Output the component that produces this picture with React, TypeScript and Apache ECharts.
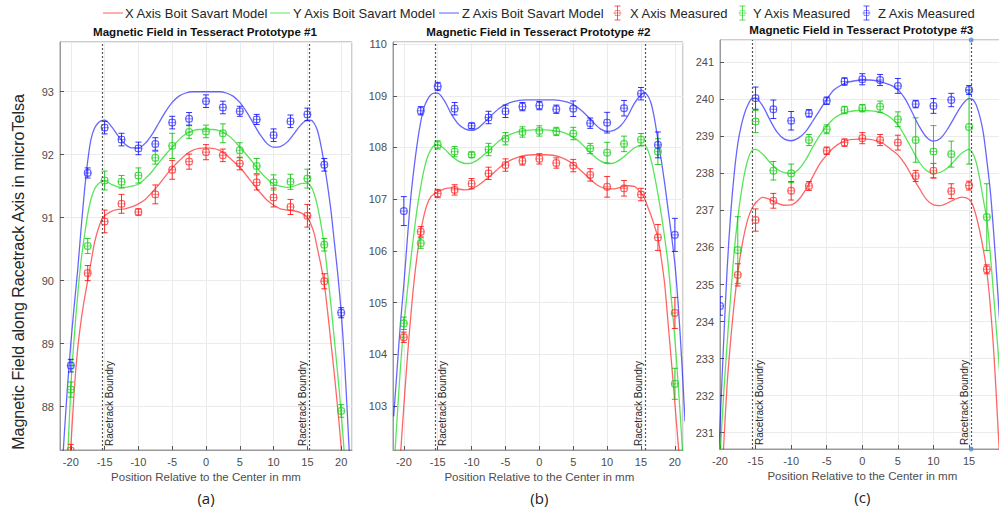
import React, { useEffect, useRef } from "react";
import * as echarts from "echarts";

// ---------- data ----------
const measX = [-20, -17.5, -15, -12.5, -10, -7.5, -5, -2.5, 0, 2.5, 5, 7.5, 10, 12.5, 15, 17.5, 20];
const modelX = [-21.5, -21, -20.5, -20, -19.5, -19, -18.5, -18, -17.5, -17, -16.5, -16, -15.5, -15, -14, -13, -12, -11, -10, -9, -8, -7, -6, -5, -4, -3, -2, -1, 0, 1, 2, 3, 4, 5, 6, 7, 8, 9, 10, 11, 12, 13, 14, 15, 15.5, 16, 16.5, 17, 17.5, 18, 18.5, 19, 19.5, 20, 20.5, 21, 21.5];

// Prototype #1
const p1ModelX = [84.5, 85.6, 86.6, 87.35, 88.25, 88.9, 89.35, 89.7, 90.0, 90.3, 90.6, 90.8, 90.95, 91.03, 91.1, 91.13, 91.14, 91.17, 91.22, 91.29, 91.4, 91.52, 91.66, 91.79, 91.9, 92.0, 92.07, 92.1, 92.11, 92.1, 92.07, 92.0, 91.9, 91.8, 91.67, 91.53, 91.4, 91.28, 91.2, 91.14, 91.12, 91.11, 91.08, 91.0, 90.9, 90.75, 90.5, 90.25, 89.95, 89.5, 89.0, 88.5, 87.95, 87.35, 86.6, 85.7, 84.7];
const p1ModelY = [84.7, 85.9, 87.1, 88.3, 89.1, 89.75, 90.3, 90.7, 91.05, 91.3, 91.45, 91.53, 91.57, 91.58, 91.53, 91.49, 91.48, 91.5, 91.53, 91.62, 91.73, 91.87, 92.0, 92.12, 92.24, 92.33, 92.38, 92.4, 92.4, 92.4, 92.38, 92.33, 92.24, 92.12, 92.0, 91.87, 91.73, 91.62, 91.53, 91.5, 91.48, 91.5, 91.54, 91.55, 91.5, 91.38, 91.18, 90.9, 90.55, 90.1, 89.6, 89.05, 88.5, 87.9, 87.2, 86.4, 85.5];
const p1ModelZ = [86.6, 87.5, 88.3, 89.0, 89.6, 90.15, 90.8, 91.4, 91.9, 92.25, 92.42, 92.5, 92.54, 92.55, 92.45, 92.3, 92.17, 92.11, 92.11, 92.18, 92.32, 92.5, 92.68, 92.83, 92.93, 92.98, 93.0, 93.0, 93.0, 93.0, 93.0, 92.98, 92.93, 92.83, 92.68, 92.5, 92.32, 92.18, 92.12, 92.13, 92.2, 92.33, 92.47, 92.55, 92.55, 92.5, 92.38, 92.15, 91.85, 91.5, 91.1, 90.6, 90.1, 89.5, 88.7, 87.7, 86.6];
const p1MeasX = [87.3, 90.12, 90.94, 91.22, 91.09, 91.37, 91.76, 91.89, 92.04, 91.99, 91.86, 91.56, 91.32, 91.17, 91.03, 89.99, null];
const p1MeasY = [88.27, 90.55, 91.59, 91.57, 91.67, 91.95, 92.14, 92.36, 92.37, 92.34, 92.07, 91.82, 91.56, 91.57, 91.62, 90.57, 87.93];
const p1MeasZ = [88.65, 91.71, 92.43, 92.24, 92.1, 92.17, 92.51, 92.57, 92.85, 92.75, 92.69, 92.56, 92.31, 92.53, 92.64, 91.84, 89.49];
const p1ErrX = [0.1, 0.12, 0.18, 0.15, 0.05, 0.15, 0.15, 0.12, 0.12, 0.1, 0.1, 0.12, 0.15, 0.12, 0.18, 0.12, null];
const p1ErrY = [0.12, 0.12, 0.15, 0.1, 0.12, 0.1, 0.2, 0.1, 0.1, 0.15, 0.12, 0.12, 0.12, 0.12, 0.15, 0.1, 0.1];
const p1ErrZ = [0.1, 0.08, 0.1, 0.1, 0.1, 0.1, 0.1, 0.1, 0.1, 0.1, 0.08, 0.08, 0.1, 0.1, 0.1, 0.1, 0.08];

// Prototype #2
const p2ModelX = [100.2, 101.1, 102.05, 103.0, 103.9, 104.7, 105.4, 105.95, 106.38, 106.7, 106.92, 107.05, 107.1, 107.14, 107.2, 107.22, 107.2, 107.18, 107.2, 107.27, 107.37, 107.48, 107.6, 107.7, 107.77, 107.82, 107.85, 107.86, 107.86, 107.86, 107.85, 107.82, 107.76, 107.68, 107.57, 107.45, 107.33, 107.24, 107.2, 107.2, 107.23, 107.26, 107.25, 107.12, 107.02, 106.85, 106.68, 106.48, 106.25, 105.85, 105.35, 104.6, 103.85, 103.05, 102.25, 101.4, 100.5];
const p2ModelY = [101.7, 102.75, 103.75, 104.55, 105.2, 105.8, 106.35, 106.85, 107.25, 107.58, 107.82, 107.96, 108.04, 108.05, 107.97, 107.84, 107.74, 107.69, 107.7, 107.77, 107.88, 108.0, 108.12, 108.21, 108.27, 108.31, 108.33, 108.34, 108.34, 108.34, 108.33, 108.31, 108.27, 108.2, 108.1, 107.97, 107.84, 107.74, 107.69, 107.7, 107.77, 107.88, 107.99, 108.04, 108.04, 107.95, 107.75, 107.45, 107.1, 106.7, 106.25, 105.75, 105.05, 104.3, 103.4, 102.4, 101.3];
const p2ModelZ = [102.8, 103.7, 104.6, 105.35, 106.2, 107.0, 107.6, 108.1, 108.5, 108.78, 108.93, 109.02, 109.05, 109.05, 108.9, 108.65, 108.46, 108.36, 108.33, 108.38, 108.5, 108.63, 108.75, 108.83, 108.88, 108.91, 108.92, 108.92, 108.92, 108.92, 108.92, 108.91, 108.88, 108.83, 108.74, 108.62, 108.48, 108.36, 108.31, 108.33, 108.42, 108.6, 108.85, 109.02, 109.06, 109.0, 108.85, 108.55, 108.15, 107.75, 107.3, 106.8, 106.3, 105.75, 104.95, 103.9, 102.7];
const p2MeasX = [104.33, 106.37, 107.11, 107.18, 107.3, 107.5, 107.66, 107.74, 107.78, 107.7, 107.65, 107.47, 107.24, 107.21, 107.09, 106.26, 104.8];
const p2MeasY = [104.6, 106.15, 108.05, 107.92, 107.86, 107.96, 108.17, 108.3, 108.32, 108.31, 108.27, 107.98, 107.9, 108.07, 108.15, 107.92, 103.43];
const p2MeasZ = [106.77, 108.71, 109.18, 108.75, 108.42, 108.58, 108.7, 108.79, 108.81, 108.74, 108.75, 108.47, 108.48, 108.76, 109.04, 108.05, 106.31];
const p2ErrX = [0.1, 0.1, 0.08, 0.1, 0.1, 0.12, 0.12, 0.08, 0.1, 0.1, 0.12, 0.12, 0.2, 0.15, 0.12, 0.25, 0.3];
const p2ErrY = [0.12, 0.1, 0.08, 0.1, 0.05, 0.12, 0.12, 0.1, 0.1, 0.08, 0.12, 0.1, 0.2, 0.15, 0.12, 0.25, 0.3];
const p2ErrZ = [0.28, 0.08, 0.08, 0.12, 0.05, 0.12, 0.12, 0.08, 0.08, 0.08, 0.15, 0.1, 0.2, 0.15, 0.12, 0.25, 0.32];

// Prototype #3
const p3ModelX = [222.0, 224.6, 226.9, 228.9, 230.6, 232.3, 233.5, 234.5, 235.3, 235.95, 236.45, 236.82, 237.05, 237.2, 237.35, 237.3, 237.2, 237.14, 237.15, 237.28, 237.55, 237.9, 238.25, 238.5, 238.7, 238.83, 238.9, 238.92, 238.93, 238.92, 238.88, 238.8, 238.65, 238.5, 238.25, 237.92, 237.6, 237.3, 237.15, 237.13, 237.2, 237.3, 237.36, 237.3, 237.15, 236.85, 236.45, 235.95, 235.35, 234.4, 233.1, 231.4, 229.6, 227.8, 226.0, 224.2, 222.4];
const p3ModelY = [223.0, 225.5, 228.0, 230.3, 232.0, 233.4, 234.7, 235.9, 236.8, 237.5, 238.05, 238.42, 238.62, 238.65, 238.52, 238.3, 238.12, 238.02, 238.0, 238.1, 238.35, 238.7, 239.02, 239.28, 239.48, 239.6, 239.66, 239.69, 239.7, 239.69, 239.67, 239.62, 239.5, 239.3, 239.0, 238.65, 238.3, 238.08, 238.0, 238.03, 238.15, 238.35, 238.55, 238.65, 238.55, 238.3, 237.85, 237.3, 236.75, 235.8, 234.6, 233.4, 232.1, 230.8, 229.4, 228.0, 226.5];
const p3ModelZ = [224.0, 226.5, 229.0, 231.2, 233.4, 235.4, 236.9, 238.0, 238.8, 239.3, 239.65, 239.88, 240.02, 240.03, 239.82, 239.45, 239.12, 238.93, 238.88, 238.95, 239.12, 239.4, 239.7, 240.0, 240.25, 240.38, 240.46, 240.5, 240.52, 240.52, 240.5, 240.45, 240.38, 240.26, 240.02, 239.65, 239.27, 238.98, 238.87, 238.95, 239.2, 239.53, 239.84, 240.02, 240.0, 239.85, 239.55, 239.1, 238.35, 237.5, 236.3, 234.9, 233.4, 231.8, 230.2, 228.6, 227.0];
const p3MeasX = [null, 235.26, 236.74, 237.26, 237.53, 237.66, 238.61, 238.83, 238.95, 238.9, 238.83, 237.93, 238.07, 237.52, 237.67, 235.41, null];
const p3MeasY = [null, 235.93, 239.4, 238.07, 238.0, 238.9, 239.19, 239.71, 239.76, 239.8, 239.46, 238.9, 238.59, 238.52, 239.25, 236.82, null];
const p3MeasZ = [234.42, null, 240.03, 239.73, 239.42, 239.62, 239.96, 240.48, 240.54, 240.52, 240.36, 239.87, 239.82, 239.98, 240.25, null, null];
const p3ErrX = [null, 0.3, 0.3, 0.2, 0.25, 0.12, 0.1, 0.1, 0.15, 0.15, 0.2, 0.15, 0.2, 0.2, 0.12, 0.12, null];
const p3ErrY = [null, 0.9, 0.3, 0.25, 0.25, 0.15, 0.12, 0.1, 0.1, 0.15, 0.2, 0.6, 0.7, 0.35, 1.0, 0.9, null];
const p3ErrZ = [0.25, null, 0.3, 0.25, 0.25, 0.1, 0.1, 0.1, 0.15, 0.15, 0.2, 0.1, 0.2, 0.18, 0.12, null, null];
const p3MarkerX = [15.3, 15.3];
const p3MarkerY = [241.6, 230.56];

const titles = ["Magnetic Field in Tesseract Prototype #1", "Magnetic Field in Tesseract Prototype #2", "Magnetic Field in Tesseract Prototype #3"];
const captions = ["(a)", "(b)", "(c)"];
const boundaries = [[-15.3, 15.3], [-15.4, 15.7], [-15.5, 15.3]];
const legendNames = ["X Axis Boit Savart Model", "Y Axis Boit Savart Model", "Z Axis Boit Savart Model", "X Axis Measured", "Y Axis Measured", "Z Axis Measured"];

// ---------- styling ----------
const FONT = "'Liberation Sans', Arial, Helvetica, sans-serif";
const lineCol = ["rgba(255,0,0,0.6)", "rgba(0,215,0,0.65)", "rgba(0,0,255,0.6)"];
const legendLineCol = ["rgba(255,0,0,0.4)", "rgba(0,215,0,0.4)", "rgba(0,0,255,0.4)"];
const legendMarkCol = ["rgba(255,0,0,0.65)", "rgba(0,200,0,0.65)", "rgba(0,0,255,0.65)"];
const barCol = ["rgba(255,0,0,0.8)", "rgba(0,190,0,0.8)", "rgba(0,0,255,0.8)"];
const markCol = ["rgba(255,40,40,0.55)", "rgba(30,210,30,0.6)", "rgba(40,40,255,0.55)"];

const panels = [
  { grid: { left: 60, top: 42, width: 292, height: 408 }, xMin: -21.6, xMax: 21.6, yMin: 87.31, yMax: 93.79, showMinX: false, labelMaxX: 21,
    model: [p1ModelX, p1ModelY, p1ModelZ], meas: [p1MeasX, p1MeasY, p1MeasZ], err: [p1ErrX, p1ErrY, p1ErrZ] },
  { grid: { left: 393, top: 42, width: 290, height: 408 }, xMin: -21.6, xMax: 21.2, yMin: 102.15, yMax: 110.04, showMinX: false, labelMaxX: 21,
    model: [p2ModelX, p2ModelY, p2ModelZ], meas: [p2MeasX, p2MeasY, p2MeasZ], err: [p2ErrX, p2ErrY, p2ErrZ] },
  { grid: { left: 720, top: 40, width: 296, height: 409 }, xMin: -20, xMax: 21.6, yMin: 230.56, yMax: 241.6, showMinX: true, labelMaxX: 16,
    model: [p3ModelX, p3ModelY, p3ModelZ], meas: [p3MeasX, p3MeasY, p3MeasZ], err: [p3ErrX, p3ErrY, p3ErrZ] },
];

function makeRender(bar: string, mark: string) {
  return (params: any, api: any) => {
    const x = api.value(0), y = api.value(1), e = api.value(2);
    const c = api.coord([x, y]);
    const t = api.coord([x, y + e]);
    const b = api.coord([x, y - e]);
    const cap = 3;
    const s = { stroke: bar, lineWidth: 1 };
    return {
      type: "group",
      children: [
        { type: "line", shape: { x1: c[0], y1: t[1], x2: c[0], y2: b[1] }, style: s },
        { type: "line", shape: { x1: c[0] - cap, y1: t[1], x2: c[0] + cap, y2: t[1] }, style: s },
        { type: "line", shape: { x1: c[0] - cap, y1: b[1], x2: c[0] + cap, y2: b[1] }, style: s },
        { type: "circle", shape: { cx: c[0], cy: c[1], r: 3.6 }, style: { fill: "none", stroke: mark, lineWidth: 1 } },
        { type: "rect", shape: { x: c[0] - 3, y: c[1] - 3, width: 6, height: 6 }, style: { fill: "none", stroke: mark, lineWidth: 1 } },
        { type: "line", shape: { x1: c[0] - 3.6, y1: c[1], x2: c[0] + 3.6, y2: c[1] }, style: { stroke: mark, lineWidth: 1 } },
      ],
    };
  };
}

function buildOption() {
  const grid: any[] = [];
  const xAxis: any[] = [];
  const yAxis: any[] = [];
  const series: any[] = [];
  panels.forEach((p, i) => {
    grid.push({ ...p.grid, show: true, borderColor: "#9a9a9a", borderWidth: 1, backgroundColor: "#fff", containLabel: false, outerBoundsMode: "none" });
    xAxis.push({
      type: "value", gridIndex: i, min: p.xMin, max: p.xMax, minInterval: 5, maxInterval: 5, splitNumber: 8,
      axisLine: { show: true, onZero: false, lineStyle: { color: "#9a9a9a" } },
      axisTick: { show: true, inside: true, length: 4, lineStyle: { color: "#555" } },
      axisLabel: {
        show: true, margin: 6, fontSize: 11, color: "#4d4d4d", fontFamily: FONT, showMinLabel: p.showMinX, showMaxLabel: false,
        formatter: (v: number) => (v > p.labelMaxX ? "" : String(v)),
      },
      splitLine: { show: true, lineStyle: { color: "#ebebeb", width: 1 } },
    });
    yAxis.push({
      type: "value", gridIndex: i, min: p.yMin, max: p.yMax, minInterval: 1, maxInterval: 1, splitNumber: 10,
      axisLine: { show: true, onZero: false, lineStyle: { color: "#9a9a9a" } },
      axisTick: { show: true, inside: true, length: 4, lineStyle: { color: "#555" } },
      axisLabel: { show: true, margin: 6, fontSize: 11, color: "#4d4d4d", fontFamily: FONT, showMinLabel: false, showMaxLabel: false },
      splitLine: { show: true, lineStyle: { color: "#ebebeb", width: 1 } },
    });
    p.model.forEach((vals, k) => {
      const s: any = {
        type: "line", xAxisIndex: i, yAxisIndex: i, name: legendNames[k],
        data: modelX.map((x, j) => [x, vals[j]]), showSymbol: false, symbol: "none", smooth: 0.3, clip: true,
        lineStyle: { color: lineCol[k], width: 1.3 }, z: 3,
      };
      if (k === 0) {
        s.markLine = {
          silent: true, symbol: ["none", "none"], label: { show: false },
          lineStyle: { color: "#555", type: [2, 2], width: 1.2 },
          data: boundaries[i].map((b) => ({ xAxis: b })),
        };
      }
      series.push(s);
    });
    p.meas.forEach((vals, k) => {
      const rows: any[] = [];
      measX.forEach((x, j) => {
        const v = vals[j];
        const e = p.err[k][j];
        if (v !== null && v !== undefined) rows.push([x, v, e == null ? 0.1 : e]);
      });
      series.push({
        type: "custom", xAxisIndex: i, yAxisIndex: i, name: legendNames[3 + k], clip: true,
        dimensions: ["x", "y", "e"], encode: { x: 0, y: 1 },
        data: rows, renderItem: makeRender(barCol[k], markCol[k]), z: 4,
      });
    });
  });
  series.push({
    type: "scatter", xAxisIndex: 2, yAxisIndex: 2, clip: false, symbol: "circle", symbolSize: 5,
    itemStyle: { color: "#5b8fd0" }, data: p3MarkerX.map((x, j) => [x, p3MarkerY[j]]), z: 5,
  });
  return {
    animation: false,
    backgroundColor: "#ffffff",
    grid, xAxis, yAxis, series,
  };
}

function staticGraphics(): any[] {
  const g: any[] = [];
  const legendLines = [[103, 123, 125], [270, 290, 293], [439, 459, 462]];
  legendLines.forEach((l, k) => {
    g.push({ type: "line", shape: { x1: l[0], y1: 13, x2: l[1], y2: 13 }, style: { stroke: legendLineCol[k], lineWidth: 1.6 } });
    g.push({ type: "text", x: l[2], y: 13, style: { text: legendNames[k], font: `13px ${FONT}`, fill: "#262626", align: "left", verticalAlign: "middle" } });
  });
  const legendMarks = [[617.5, 630], [742.5, 753], [866.5, 878]];
  legendMarks.forEach((m, k) => {
    const cx = m[0];
    const st = { stroke: legendMarkCol[k], lineWidth: 1 };
    g.push({ type: "line", shape: { x1: cx, y1: 6, x2: cx, y2: 20 }, style: st });
    g.push({ type: "line", shape: { x1: cx - 3, y1: 6, x2: cx + 3, y2: 6 }, style: st });
    g.push({ type: "line", shape: { x1: cx - 3, y1: 20, x2: cx + 3, y2: 20 }, style: st });
    g.push({ type: "line", shape: { x1: cx - 4, y1: 13, x2: cx + 4, y2: 13 }, style: { stroke: legendLineCol[k], lineWidth: 1 } });
    g.push({ type: "rect", shape: { x: cx - 2.5, y: 10.5, width: 5, height: 5 }, style: { fill: "none", stroke: legendLineCol[k], lineWidth: 1 } });
    g.push({ type: "text", x: m[1], y: 13, style: { text: legendNames[3 + k], font: `13px ${FONT}`, fill: "#262626", align: "left", verticalAlign: "middle" } });
  });
  g.push({
    type: "text", x: 18, y: 272, rotation: Math.PI / 2,
    style: { text: "Magnetic Field along Racetrack Axis in microTelsa", font: `16px ${FONT}`, fill: "#262626", align: "center", verticalAlign: "middle" },
  });
  return g;
}

export default function App() {
  const ref = useRef<HTMLDivElement>(null);
  useEffect(() => {
    if (!ref.current) return;
    const chart = echarts.init(ref.current, null, { renderer: "svg" });
    chart.setOption(buildOption() as any);
    const g = staticGraphics();
    panels.forEach((p, i) => {
      const c0 = chart.convertToPixel({ gridIndex: i } as any, [0, p.yMin]) as number[];
      const top = chart.convertToPixel({ gridIndex: i } as any, [0, p.yMax]) as number[];
      g.push({ type: "text", x: c0[0] - 1, y: top[1] - 11, style: { text: titles[i], font: `bold 11.6px ${FONT}`, fill: "#111", align: "center", verticalAlign: "middle" } });
      g.push({ type: "text", x: c0[0], y: c0[1] + 27, style: { text: "Position Relative to the Center in mm", font: `11.5px ${FONT}`, fill: "#4d4d4d", align: "center", verticalAlign: "middle" } });
      g.push({ type: "text", x: c0[0], y: c0[1] + 48, style: { text: captions[i], font: `15px 'Open Sans', ${FONT}`, fill: "#222", align: "center", verticalAlign: "middle" } });
      const lb = chart.convertToPixel({ gridIndex: i } as any, [boundaries[i][0], p.yMin]) as number[];
      const rb = chart.convertToPixel({ gridIndex: i } as any, [boundaries[i][1], p.yMin]) as number[];
      g.push({ type: "text", x: lb[0] + 7, y: lb[1] - 4, rotation: Math.PI / 2, style: { text: "Racetrack Boundry", font: `10px ${FONT}`, fill: "#262626", align: "left", verticalAlign: "middle" } });
      g.push({ type: "text", x: rb[0] - 7, y: rb[1] - 4, rotation: Math.PI / 2, style: { text: "Racetrack Boundry", font: `10px ${FONT}`, fill: "#262626", align: "left", verticalAlign: "middle" } });
    });
    chart.setOption({ graphic: { elements: g } } as any);
    return () => chart.dispose();
  }, []);
  return <div ref={ref} style={{ position: "absolute", left: 0, top: 0, width: 999, height: 510, background: "#fff" }} />;
}
